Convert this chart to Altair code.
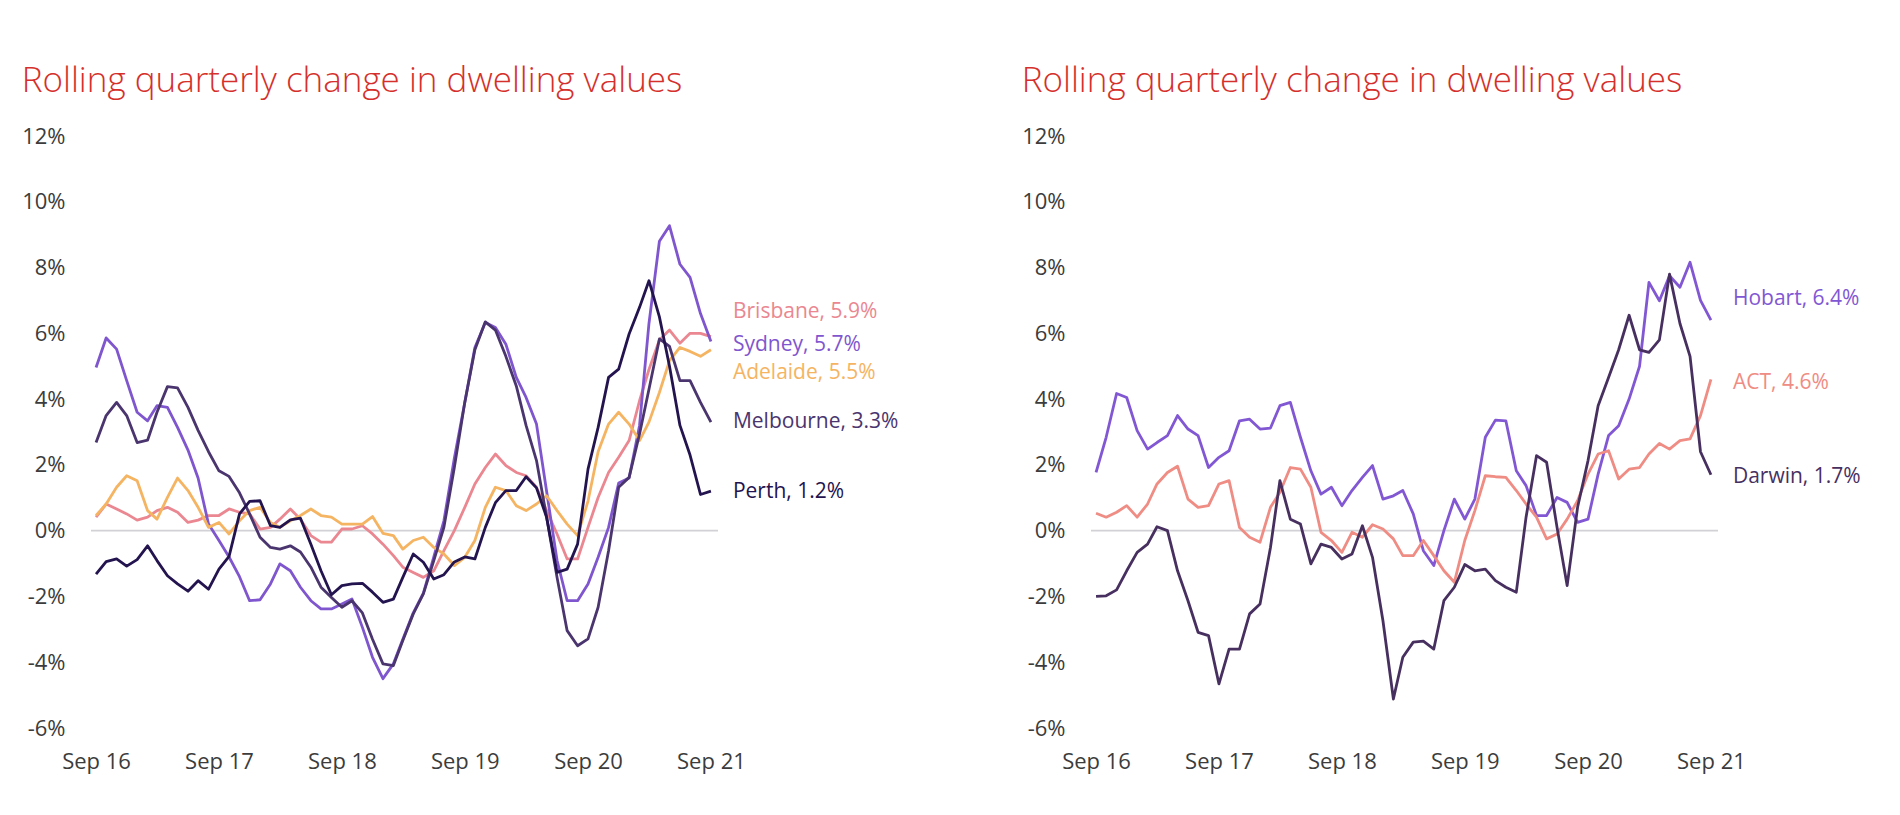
import altair as alt
import pandas as pd

# ---------------- data ----------------
months = pd.date_range("2016-09-01", "2021-09-01", freq="MS").strftime("%Y-%m-%d").tolist()

x_tick_years = [2016, 2017, 2018, 2019, 2020, 2021]
y_ticks = [-6, -4, -2, 0, 2, 4, 6, 8, 10, 12]
title_text = "Rolling quarterly change in dwelling values"

# Left panel
left_cities = ["Brisbane", "Sydney", "Adelaide", "Melbourne", "Perth"]
left_colors = ["#EA8791", "#7F56CE", "#F5B462", "#4A356E", "#23144F"]
left_label_text = ["Brisbane, 5.9%", "Sydney, 5.7%", "Adelaide, 5.5%", "Melbourne, 3.3%", "Perth, 1.2%"]
left_label_y = [6.66, 5.66, 4.80, 3.30, 1.18]

brisbane = [0.41, 0.81, 0.66, 0.51, 0.32, 0.41, 0.61, 0.71, 0.56, 0.25, 0.32, 0.46, 0.46, 0.66, 0.56, 0.51,
            0.05, 0.10, 0.35, 0.66, 0.35, -0.15, -0.35, -0.35, 0.05, 0.05, 0.15, -0.10, -0.41, -0.76, -1.11,
            -1.27, -1.42, -1.22, -0.61, 0.00, 0.71, 1.42, 1.92, 2.33, 1.98, 1.77, 1.67, 1.32, 0.61, -0.10,
            -0.86, -0.86, 0.10, 1.01, 1.77, 2.23, 2.74, 3.95, 4.90, 5.80, 6.10, 5.70, 6.00, 6.00, 5.90]
sydney = [4.96, 5.86, 5.52, 4.56, 3.60, 3.34, 3.80, 3.75, 3.14, 2.45, 1.60, 0.20, -0.30, -0.80, -1.40, -2.13,
          -2.10, -1.62, -1.01, -1.22, -1.72, -2.13, -2.38, -2.38, -2.23, -2.08, -2.94, -3.85, -4.50, -4.05,
          -3.30, -2.50, -1.90, -0.80, 0.30, 2.20, 3.90, 5.57, 6.33, 6.18, 5.67, 4.66, 4.05, 3.24, 1.20, -0.90,
          -2.13, -2.13, -1.62, -0.81, 0.10, 1.45, 1.60, 3.20, 6.30, 8.80, 9.27, 8.10, 7.70, 6.60, 5.75]
adelaide = [0.46, 0.81, 1.32, 1.67, 1.52, 0.61, 0.35, 1.01, 1.60, 1.22, 0.71, 0.10, 0.25, -0.10, 0.30, 0.61,
            0.71, 0.25, 0.10, 0.30, 0.46, 0.66, 0.46, 0.41, 0.20, 0.20, 0.20, 0.43, -0.08, -0.15, -0.56, -0.30,
            -0.20, -0.51, -0.71, -1.06, -0.81, -0.30, 0.71, 1.32, 1.22, 0.76, 0.61, 0.81, 1.06, 0.61, 0.20,
            -0.15, 0.90, 2.40, 3.24, 3.60, 3.24, 2.74, 3.30, 4.20, 5.17, 5.57, 5.45, 5.30, 5.50]
melbourne = [2.68, 3.50, 3.90, 3.50, 2.68, 2.75, 3.60, 4.38, 4.34, 3.75, 3.05, 2.40, 1.82, 1.65, 1.15, 0.51,
             -0.20, -0.51, -0.56, -0.46, -0.65, -1.11, -1.72, -2.03, -2.33, -2.13, -2.50, -3.30, -4.05, -4.10,
             -3.34, -2.53, -1.92, -0.91, 0.10, 1.92, 3.90, 5.50, 6.35, 6.10, 5.30, 4.40, 3.20, 2.13, 0.41, -1.42,
             -3.04, -3.50, -3.29, -2.33, -0.61, 1.32, 1.62, 2.94, 4.30, 5.83, 5.60, 4.56, 4.56, 3.90, 3.30]
perth = [-1.32, -0.94, -0.86, -1.08, -0.88, -0.46, -0.91, -1.37, -1.62, -1.84, -1.52, -1.78, -1.17, -0.78,
         0.51, 0.89, 0.91, 0.15, 0.10, 0.33, 0.38, -0.41, -1.22, -1.95, -1.67, -1.62, -1.60, -1.87, -2.18,
         -2.08, -1.42, -0.71, -0.96, -1.47, -1.34, -0.95, -0.80, -0.86, 0.10, 0.85, 1.22, 1.22, 1.64, 1.30,
         0.41, -1.27, -1.17, -0.41, 1.87, 3.14, 4.66, 4.91, 5.98, 6.79, 7.60, 6.50, 5.00, 3.20, 2.30, 1.10, 1.20]
left_values = [brisbane, sydney, adelaide, melbourne, perth]

# Right panel
right_cities = ["Hobart", "ACT", "Darwin"]
right_colors = ["#8257D3", "#EF8C84", "#47305F"]
right_label_text = ["Hobart, 6.4%", "ACT, 4.6%", "Darwin, 1.7%"]
right_label_y = [7.04, 4.50, 1.63]

hobart = [1.77, 2.84, 4.17, 4.05, 3.04, 2.48, 2.68, 2.89, 3.50, 3.09, 2.89, 1.92, 2.23, 2.43, 3.34, 3.39,
          3.09, 3.12, 3.80, 3.90, 2.84, 1.82, 1.11, 1.32, 0.76, 1.22, 1.62, 1.98, 0.96, 1.06, 1.22, 0.51,
          -0.61, -1.06, 0.00, 0.96, 0.35, 0.96, 2.84, 3.36, 3.34, 1.82, 1.37, 0.46, 0.46, 1.01, 0.86, 0.25,
          0.35, 1.72, 2.89, 3.19, 4.00, 5.00, 7.55, 6.99, 7.75, 7.40, 8.16, 7.00, 6.40]
act = [0.53, 0.41, 0.56, 0.76, 0.41, 0.81, 1.42, 1.77, 1.96, 0.96, 0.71, 0.76, 1.42, 1.52, 0.10, -0.20,
       -0.35, 0.71, 1.17, 1.92, 1.87, 1.32, -0.05, -0.30, -0.66, -0.05, -0.20, 0.18, 0.05, -0.25, -0.76,
       -0.76, -0.30, -0.76, -1.22, -1.57, -0.30, 0.61, 1.67, 1.64, 1.62, 1.22, 0.81, 0.41, -0.25, -0.10,
       0.35, 0.91, 1.72, 2.33, 2.43, 1.57, 1.87, 1.92, 2.33, 2.65, 2.48, 2.74, 2.79, 3.50, 4.60]
darwin = [-2.00, -1.98, -1.80, -1.22, -0.66, -0.41, 0.12, 0.00, -1.22, -2.13, -3.09, -3.19, -4.66, -3.60,
          -3.60, -2.53, -2.23, -0.51, 1.52, 0.35, 0.20, -1.01, -0.41, -0.51, -0.86, -0.71, 0.15, -0.81,
          -2.74, -5.12, -3.85, -3.39, -3.36, -3.60, -2.13, -1.72, -1.03, -1.22, -1.17, -1.52, -1.72, -1.87,
          0.41, 2.28, 2.08, 0.10, -1.67, 0.71, 2.13, 3.80, 4.66, 5.50, 6.55, 5.50, 5.42, 5.80, 7.80, 6.30,
          5.30, 2.40, 1.70]
right_values = [hobart, act, darwin]

# ---------------- styling ----------------
FONT = "Open Sans"
TITLE_COLOR = "#D5302B"
TICK_COLOR = "#3C3C3C"


def panel(cities, colors, values, label_text, label_y):
    rows = []
    for c, vals in zip(cities, values):
        for m, v in zip(months, vals):
            rows.append({"city": c, "date": m, "value": v})
    df = pd.DataFrame(rows)
    lab = pd.DataFrame({"city": cities, "date": [months[-1]] * len(cities),
                        "ly": label_y, "label": label_text})

    cscale = alt.Scale(domain=cities, range=colors)
    xscale = alt.Scale(domain=[alt.DateTime(year=2016, month=8, date=17),
                               alt.DateTime(year=2021, month=9, date=22)])
    yscale = alt.Scale(domain=[-6, 12], nice=False, zero=False)

    xaxis = alt.Axis(values=[alt.DateTime(year=y, month=9, date=1) for y in x_tick_years],
                     format="%b %y", labelFontSize=22, labelFont=FONT, labelColor=TICK_COLOR,
                     labelPadding=23, domain=False, ticks=False, grid=False, title=None)
    yaxis = alt.Axis(values=y_ticks, labelExpr="datum.value + '%'", labelFontSize=22, labelFont=FONT,
                     labelColor=TICK_COLOR, labelPadding=26, domain=False, ticks=False, grid=False,
                     title=None)

    zero = alt.Chart(pd.DataFrame({"v": [0]})).mark_rule(color="#D2D2D6", strokeWidth=1.6).encode(
        y=alt.Y("v:Q", scale=yscale, axis=yaxis))

    lines = alt.Chart(df).mark_line(strokeWidth=2.8, strokeJoin="round").encode(
        x=alt.X("date:T", scale=xscale, axis=xaxis),
        y=alt.Y("value:Q", scale=yscale, axis=yaxis),
        color=alt.Color("city:N", scale=cscale, legend=None),
        order=alt.Order("date:T"),
    )

    labels = alt.Chart(lab).mark_text(align="left", baseline="middle", dx=22, fontSize=21,
                                      font=FONT, fontWeight=500).encode(
        x=alt.X("date:T", scale=xscale, axis=xaxis),
        y=alt.Y("ly:Q", scale=yscale, axis=yaxis),
        text="label:N",
        color=alt.Color("city:N", scale=cscale, legend=None),
    )

    return alt.layer(zero, lines, labels).properties(
        width=627, height=592,
        title=alt.TitleParams(title_text, anchor="start", offset=26, fontSize=35,
                              font=FONT, fontWeight=300, color=TITLE_COLOR),
    )


left = panel(left_cities, left_colors, left_values, left_label_text, left_label_y)
right = panel(right_cities, right_colors, right_values, right_label_text, right_label_y)

chart = alt.hconcat(left, right, spacing=373, bounds="flush").resolve_scale(color="independent").properties(
    padding={"left": 13, "top": 56, "right": 10, "bottom": 10},
    background="white",
).configure_view(stroke=None)

chart.save("out.html", embed_options={"renderer": "svg", "actions": False})
